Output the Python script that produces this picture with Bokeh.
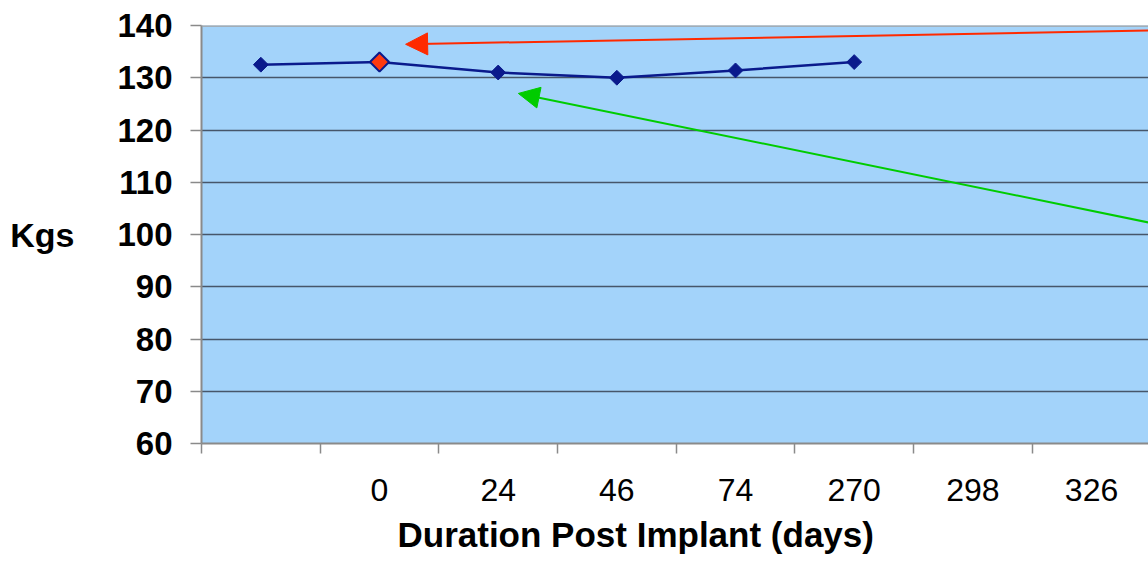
import math
from bokeh.plotting import figure
from bokeh.models import Range1d, FixedTicker, Span, Arrow, NormalHead, Title, ColumnDataSource
from bokeh.embed import file_html
from bokeh.resources import INLINE

# ---- data ----
x_labels = ["", "0", "24", "46", "74", "270", "298", "326"]
weight_kg = [132.5, 133.0, 131.0, 130.0, 131.4, 133.0]
highlight_index = 1
y_ticks = [60, 70, 80, 90, 100, 110, 120, 130, 140]
grid_levels = [70, 80, 90, 100, 110, 120, 130]
x_title = "Duration Post Implant (days)"

# annotation arrows (x in category units, y in kg)
red_arrow = dict(x_start=7.98, y_start=139.05, x_end=1.72, y_end=136.4)
green_arrow = dict(x_start=7.98, y_start=102.3, x_end=2.67, y_end=127.0)

FONT = "Liberation Sans"
NAVY = "#0a1a8c"

xs = [i + 0.5 for i in range(len(weight_kg))]
src = ColumnDataSource(dict(x=xs, y=weight_kg))
hl = ColumnDataSource(dict(x=[xs[highlight_index]], y=[weight_kg[highlight_index]]))

p = figure(width=1148, height=563, output_backend="svg", toolbar_location=None,
           x_range=Range1d(0, 7.98), y_range=Range1d(60, 140),
           min_border_left=201, min_border_right=0, min_border_top=25, min_border_bottom=120)

p.border_fill_color = "white"
p.background_fill_color = "#a3d3fa"
p.outline_line_color = None

# grid
p.xgrid.visible = False
p.ygrid.ticker = FixedTicker(ticks=grid_levels)
p.ygrid.grid_line_color = "#46566a"
p.ygrid.grid_line_width = 1.5

# top border
p.add_layout(Span(location=140, dimension="width", line_color="#a0a0a0", line_width=2.5))

# x axis
xax = p.xaxis[0]
xax.ticker = FixedTicker(ticks=[i + 0.5 for i in range(len(x_labels))],
                         minor_ticks=list(range(len(x_labels) + 1)))
xax.major_label_overrides = {i + 0.5: lab for i, lab in enumerate(x_labels)}
xax.major_tick_line_color = None
xax.major_tick_out = 0
xax.major_tick_in = 0
xax.minor_tick_out = 10
xax.minor_tick_in = 0
xax.minor_tick_line_color = "#8a8a8a"
xax.minor_tick_line_width = 1.5
xax.axis_line_color = "#8a8a8a"
xax.axis_line_width = 2
xax.major_label_standoff = 25
xax.major_label_text_font = FONT
xax.major_label_text_font_size = "32px"
xax.major_label_text_color = "black"

p.add_layout(Title(text=x_title, align="left", offset=196,
                   text_font=FONT, text_font_size="35px", text_font_style="bold",
                   text_color="black", standoff=19), "below")

# y axis
yax = p.yaxis[0]
yax.ticker = FixedTicker(ticks=y_ticks)
yax.minor_tick_line_color = None
yax.major_tick_out = 11
yax.major_tick_in = 0
yax.major_tick_line_color = "#8a8a8a"
yax.major_tick_line_width = 1.5
yax.axis_line_color = "#8a8a8a"
yax.axis_line_width = 2
yax.major_label_standoff = 18
yax.major_label_text_font = FONT
yax.major_label_text_font_size = "33px"
yax.major_label_text_font_style = "bold"
yax.major_label_text_color = "black"
yax.axis_label = "Kgs"
yax.axis_label_orientation = "horizontal"
yax.axis_label_text_font = FONT
yax.axis_label_text_font_size = "34px"
yax.axis_label_text_font_style = "bold"
yax.axis_label_text_color = "black"
yax.axis_label_standoff = 40

# series
p.line("x", "y", source=src, line_color=NAVY, line_width=2.5)
p.scatter("x", "y", source=src, marker="square", angle=math.pi / 4, size=10.5,
          fill_color=NAVY, line_color=NAVY)
p.scatter("x", "y", source=hl, marker="square", angle=math.pi / 4, size=13.5,
          fill_color="#ff3a10", line_color=NAVY, line_width=2)

# arrows
p.add_layout(Arrow(end=NormalHead(size=22, fill_color="#ff2a00", line_color="#ff2a00"),
                   line_color="#ff2a00", line_width=2, **red_arrow))
p.add_layout(Arrow(end=NormalHead(size=21, fill_color="#00cc00", line_color="#00cc00"),
                   line_color="#00cc00", line_width=2, **green_arrow))

open("out.html", "w").write(file_html(p, INLINE))
